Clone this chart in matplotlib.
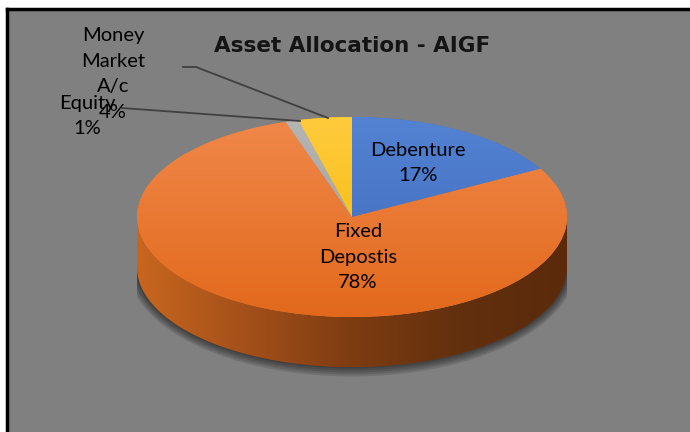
import numpy as np
import matplotlib
matplotlib.use("Agg")
import matplotlib.pyplot as plt
from matplotlib.colors import LinearSegmentedColormap
from matplotlib.patches import Polygon, Ellipse

# ---- data ----
categories = ["Debenture", "Fixed\nDepostis", "Equity", "Money\nMarket\nA/c"]
values = [17, 78, 1, 4]
title = "Asset Allocation - AIGF"

colors_top = ["#4472C4", "#ED7D31", "#A5A5A5", "#FFC000"]
grad_top = [("#5483D4", "#3D67B8"), ("#F0884A", "#E2691C"),
            ("#B5B5B5", "#9A9A9A"), ("#FFCB3D", "#F2B700")]

W, H = 690, 432
fig = plt.figure(figsize=(W / 100, H / 100), dpi=100)
fig.patch.set_facecolor("white")

# background panel with border
bg = fig.add_axes([7 / W, 0, 1 - 7 / W, (H - 9) / H])
bg.set_facecolor("#808080")
bg.set_xticks([]); bg.set_yticks([])
for s in ["right", "bottom"]:
    bg.spines[s].set_visible(False)
for s in ["top", "left"]:
    bg.spines[s].set_linewidth(2.5)
    bg.spines[s].set_color("black")

# pie axes: unit circle -> ellipse rx=215, ry=100 px, center (352,217 from top)
cx, cy_top = 352, 217
rx, ry = 215, 100
depth = 0.5
cy = H - cy_top
left_px = cx - rx
bottom_px = cy - 1.6 * ry
ax = fig.add_axes([left_px / W, bottom_px / H, 2 * rx / W, 2.6 * ry / H])
ax.patch.set_visible(False)

# tight soft shadow around the bottom edge
for k in range(5):
    grow = 0.008 * (5 - k)
    e = Ellipse((0, -depth + 0.005), 2.0 + 2 * grow, 2.0 + 5 * grow,
                facecolor="black", alpha=0.12, edgecolor="none", zorder=0)
    ax.add_patch(e)

# side (front) of the cylinder
t = np.linspace(np.pi, 2 * np.pi, 200)
top_edge = np.column_stack([np.cos(t), np.sin(t)])
bot_edge = np.column_stack([np.cos(t[::-1]), np.sin(t[::-1]) - depth])
side = Polygon(np.vstack([top_edge, bot_edge]), closed=True, facecolor="#7E3C12",
               edgecolor="none", zorder=1)
ax.add_patch(side)
side_cmap = LinearSegmentedColormap.from_list(
    "side", ["#C8661F", "#A4501A", "#7E3C12", "#62300E", "#5A2A0B"])
grad = np.linspace(0, 1, 256).reshape(1, -1)
im = ax.imshow(grad, cmap=side_cmap, extent=[-1, 1, -1 - depth, 0.05],
               aspect="auto", zorder=1, interpolation="bilinear")
im.set_clip_path(side)

# top face
wedges, _ = ax.pie(values, colors=colors_top, startangle=90, counterclock=False,
                   radius=1.0, center=(0, 0), frame=False,
                   wedgeprops=dict(linewidth=0, zorder=2))
for w, (c1, c2) in zip(wedges, grad_top):
    w.set_zorder(2)
    cm = LinearSegmentedColormap.from_list("g", [c2, c1])
    g = np.linspace(0, 1, 256).reshape(-1, 1)
    imw = ax.imshow(g, cmap=cm, extent=[-1, 1, -1, 1], origin="lower",
                    aspect="auto", zorder=3, interpolation="bilinear")
    imw.set_clip_path(w)

ax.set_xlim(-1, 1)
ax.set_ylim(-1.6, 1.0)
ax.set_aspect("auto")
ax.axis("off")

# overlay for texts (pixel coordinates, y downward)
ov = fig.add_axes([0, 0, 1, 1])
ov.set_xlim(0, W); ov.set_ylim(H, 0)
ov.axis("off")
ov.patch.set_visible(False)

font = ["Lato", "DejaVu Sans"]
fs = 14.5
ls = 1.6
pct = [f"{v}%" for v in values]
ov.text(352, 46, title, ha="center", va="center", fontsize=15.5, fontweight="bold",
        color="#141414", family=["DejaVu Sans"])
ov.text(418, 163, f"{categories[0]}\n{pct[0]}", ha="center", va="center",
        fontsize=fs, family=font, color="black", linespacing=ls)
ov.text(358, 257, f"{categories[1]}\n{pct[1]}", ha="center", va="center",
        fontsize=fs, family=font, color="black", linespacing=ls)
ov.text(87, 116, f"{categories[2]}\n{pct[2]}", ha="center", va="center",
        fontsize=fs, family=font, color="black", linespacing=ls)
ov.text(113, 74, f"{categories[3]}\n{pct[3]}", ha="center", va="center",
        fontsize=fs, family=font, color="black", linespacing=ls)

# leader lines
ov.plot([183, 196, 328], [67, 67, 118], color="#404040", lw=1.3)
ov.plot([122, 300], [108, 121], color="#404040", lw=1.3)

fig.savefig("out.png", dpi=100)
